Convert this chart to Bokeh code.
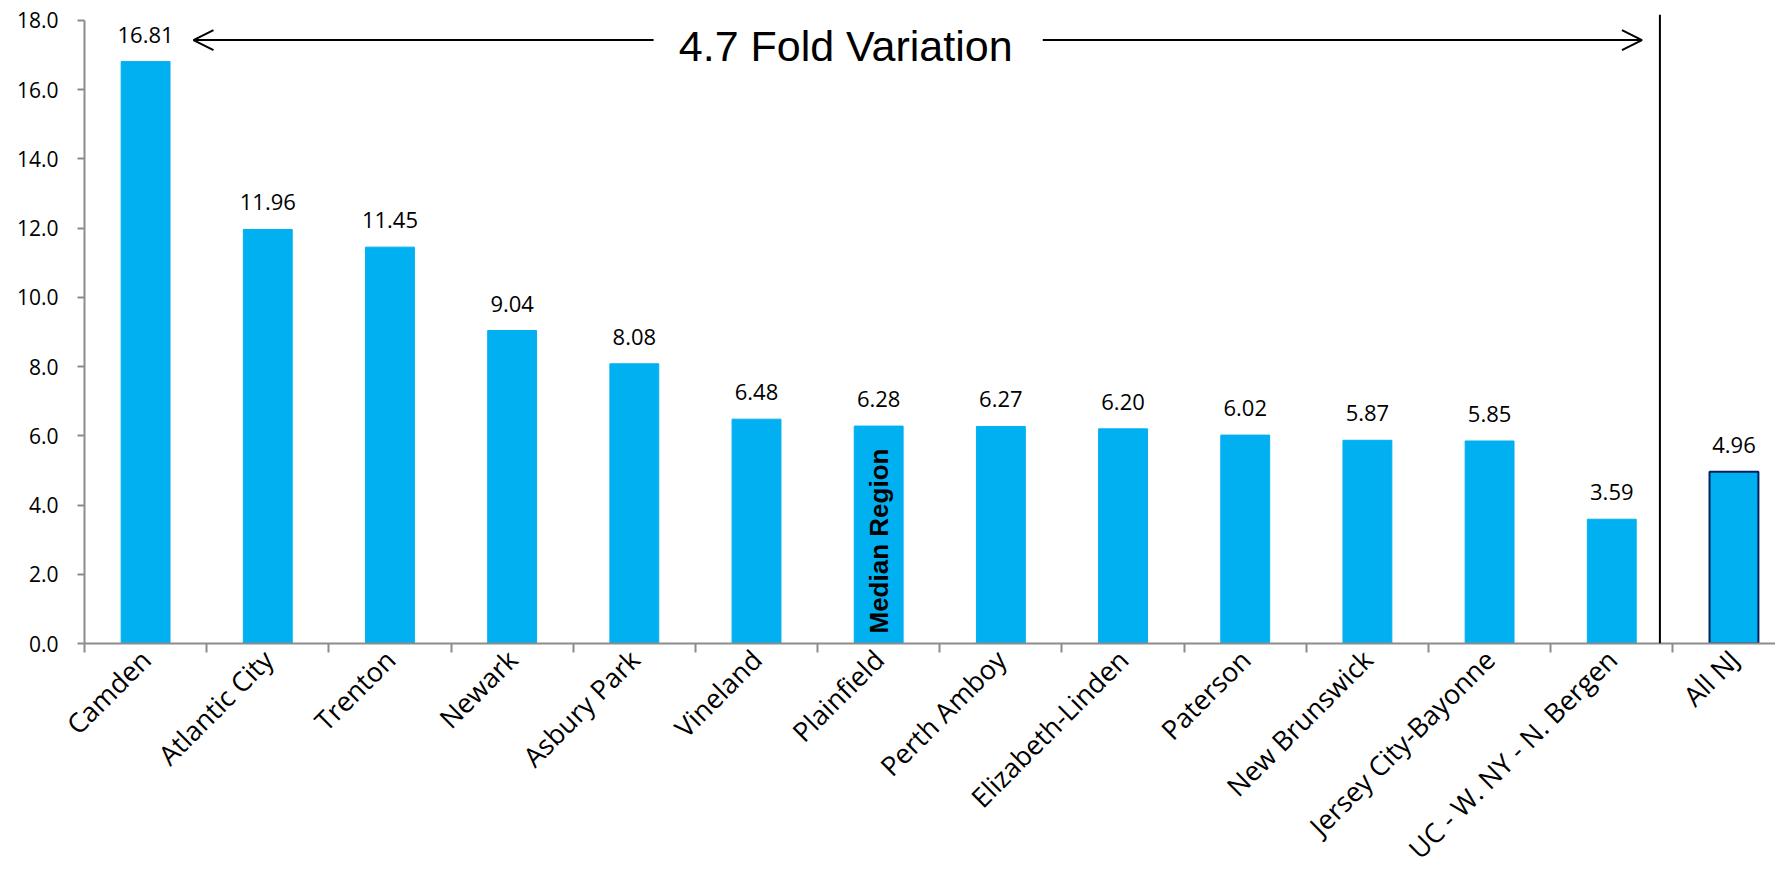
import math
from bokeh.plotting import figure
from bokeh.models import (ColumnDataSource, FixedTicker, NumeralTickFormatter, Span,
                          Arrow, OpenHead, Label, Range1d)
from bokeh.embed import file_html
from bokeh.resources import INLINE
from bokeh.core.properties import value

# ---- data ----
categories = ["Camden", "Atlantic City", "Trenton", "Newark", "Asbury Park", "Vineland",
              "Plainfield", "Perth Amboy", "Elizabeth-Linden", "Paterson", "New Brunswick",
              "Jersey City-Bayonne", "UC - W. NY - N. Bergen", "All NJ"]
values = [16.81, 11.96, 11.45, 9.04, 8.08, 6.48, 6.28, 6.27, 6.20, 6.02, 5.87, 5.85, 3.59, 4.96]
value_labels = ["16.81", "11.96", "11.45", "9.04", "8.08", "6.48", "6.28", "6.27", "6.20",
                "6.02", "5.87", "5.85", "3.59", "4.96"]
y_ticks = [0, 2, 4, 6, 8, 10, 12, 14, 16, 18]
median_category = "Plainfield"
total_category = "All NJ"
fold_text = "4.7 Fold Variation"

BLUE = "#00B0F0"
NAVY = "#002060"
AXIS_GREY = "#8C8C8C"

n = len(categories)
centers = [i + 0.5 for i in range(n)]
boundaries = list(range(n))

regional_idx = [i for i, c in enumerate(categories) if c != total_category]
total_idx = [i for i, c in enumerate(categories) if c == total_category]

src_reg = ColumnDataSource(dict(x=[centers[i] for i in regional_idx],
                                top=[values[i] for i in regional_idx]))
src_tot = ColumnDataSource(dict(x=[centers[i] for i in total_idx],
                                top=[values[i] for i in total_idx]))
src_lab = ColumnDataSource(dict(x=centers, y=values, t=value_labels))

p = figure(width=1775, height=884, output_backend="svg", toolbar_location=None,
           x_range=Range1d(0, 13.84), y_range=Range1d(0, 18.17),
           min_border_left=84, min_border_right=0, min_border_top=14, min_border_bottom=241)
p.outline_line_color = None
p.xgrid.visible = False
p.ygrid.visible = False
p.background_fill_color = "white"

p.vbar(x="x", top="top", width=0.4, bottom=0, source=src_reg,
       fill_color=BLUE, line_color=BLUE, line_width=1)
p.vbar(x="x", top="top", width=0.4, bottom=0, source=src_tot,
       fill_color=BLUE, line_color=NAVY, line_width=2)

p.text(x="x", y="y", text="t", source=src_lab, text_align="center",
       text_baseline="alphabetic", y_offset=-27, text_font=value("Open Sans"),
       text_font_size="22px", text_color="black")

# Median region marker inside the median bar
mi = categories.index(median_category)
p.text(x=[centers[mi]], y=[0], text=["Median Region"], angle=math.pi / 2,
       text_align="left", text_baseline="middle", y_offset=-10,
       text_font=value("Liberation Sans"), text_font_style="bold",
       text_font_size="26px", text_color="black")

# separator between regions and state total
sep_x = total_idx[0] - 0.106
p.add_layout(Span(location=sep_x, dimension="height", line_color="black", line_width=2))

# fold-variation arrows and text
arrow_y = 17.43
p.add_layout(Arrow(x_start=4.658, y_start=arrow_y, x_end=0.892, y_end=arrow_y,
                   line_color="black", line_width=2,
                   end=OpenHead(size=20, line_color="black", line_width=2)))
p.add_layout(Arrow(x_start=7.843, y_start=arrow_y, x_end=12.747, y_end=arrow_y,
                   line_color="black", line_width=2,
                   end=OpenHead(size=20, line_color="black", line_width=2)))
p.add_layout(Label(x=6.23, y=17.27, text=fold_text, text_align="center",
                   text_baseline="alphabetic", text_font="Liberation Sans",
                   text_font_size="43px", text_color="black"))

# y axis
ya = p.yaxis[0]
ya.ticker = FixedTicker(ticks=y_ticks)
ya.formatter = NumeralTickFormatter(format="0.0")
ya.bounds = (0, 18)
ya.axis_line_color = AXIS_GREY
ya.axis_line_width = 2
ya.major_tick_line_color = AXIS_GREY
ya.major_tick_line_width = 2
ya.major_tick_out = 7
ya.major_tick_in = 0
ya.minor_tick_line_color = None
ya.major_label_standoff = 19
ya.major_label_text_font = "Open Sans"
ya.major_label_text_font_size = "21px"
ya.major_label_text_color = "black"

# x axis
xa = p.xaxis[0]
xa.ticker = FixedTicker(ticks=centers, minor_ticks=boundaries)
xa.major_label_overrides = {c: name for c, name in zip(centers, categories)}
xa.axis_line_color = AXIS_GREY
xa.axis_line_width = 2
xa.major_tick_line_color = None
xa.major_tick_out = 0
xa.major_tick_in = 0
xa.minor_tick_line_color = AXIS_GREY
xa.minor_tick_line_width = 2
xa.minor_tick_out = 9
xa.minor_tick_in = 0
xa.major_label_orientation = math.pi / 4
xa.major_label_standoff = 2
xa.major_label_text_font = "Open Sans"
xa.major_label_text_font_size = "27px"
xa.major_label_text_color = "black"

open("out.html", "w").write(file_html(p, INLINE))
